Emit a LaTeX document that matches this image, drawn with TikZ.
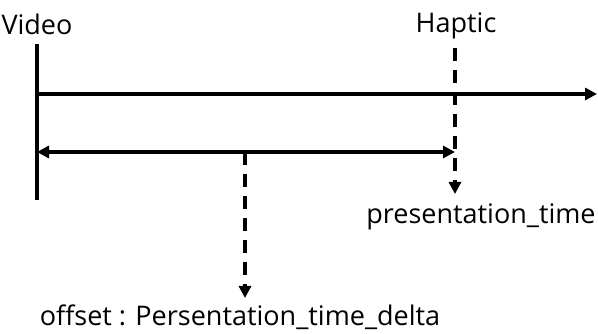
\documentclass[tikz,border=0pt]{standalone}
\usepackage{fontspec}
\setmainfont{Open Sans}
\usetikzlibrary{arrows.meta}
\begin{document}
\begin{tikzpicture}[x=1pt,y=-1pt,
  line/.style={line width=4pt},
  dline/.style={line width=4pt,dash pattern=on 13pt off 9pt},
  tip/.style={-{Triangle[length=12pt,width=12pt]}},
  lbl/.style={font=\fontsize{27}{30}\selectfont,inner sep=0pt}]
\useasboundingbox (0,0) rectangle (598,334);
\node[lbl] (video) at (37,24) {Video};
\node[lbl] (haptic) at (456,26) {Haptic};
\node[lbl] (pt) at (481,217) {presentation\_time};
\node[lbl] (off) at (240,317) {offset : Persentation\_time\_delta};
\coordinate (vtop) at (37,44);
\coordinate (vbot) at (37,200);
\coordinate (axs) at (37,94);
\coordinate (axe) at (597,94);
\coordinate (htop) at (455,48);
\coordinate (hbot) at (455,194);
\coordinate (ds) at (37,152);
\coordinate (de) at (455,152);
\coordinate (mtop) at (245,152);
\coordinate (mbot) at (245,298);
\draw[line] (vtop) -- (vbot);
\draw[line,tip] (axs) -- (axe);
\draw[line,{Triangle[length=12pt,width=12pt]}-{Triangle[length=12pt,width=12pt]}] (ds) -- (de);
\draw[dline,tip] (htop) -- (hbot);
\draw[dline,tip] (mtop) -- (mbot);
\end{tikzpicture}
\end{document}
